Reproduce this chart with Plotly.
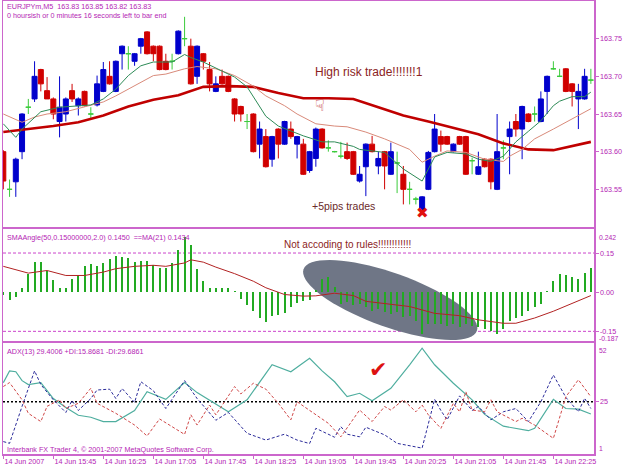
import math
import plotly.graph_objects as go

# ---------------- data ----------------
bar_index = list(range(95))

open_ = [163.600,163.550,163.560,163.600,163.659,163.670,163.709,163.681,163.670,163.640,
         163.650,163.681,163.661,163.680,163.650,163.662,163.680,163.700,163.680,163.730,
         163.730,163.720,163.740,163.759,163.740,163.740,163.720,163.720,163.730,163.750,
         163.740,163.700,163.730,163.709,163.680,163.700,163.700,163.670,163.660,163.640,
         163.650,163.610,163.620,163.590,163.630,163.610,163.630,163.610,163.610,163.575,
         163.591,163.630,163.605,163.600,163.594,163.600,163.600,163.561,163.580,163.610,
         163.581,163.600,163.570,163.585,163.570,163.550,163.537,163.523,163.550,163.600,
         163.620,163.620,163.600,163.620,163.620,163.588,163.570,163.590,163.590,163.550,
         163.605,163.620,163.640,163.630,163.650,163.650,163.640,163.680,163.710,163.700,
         163.710,163.690,163.670,163.670,163.695]
close = [163.561,163.550,163.590,163.650,163.659,163.700,163.690,163.670,163.650,163.659,
         163.670,163.670,163.670,163.661,163.650,163.690,163.709,163.690,163.720,163.740,
         163.730,163.730,163.750,163.730,163.730,163.709,163.709,163.720,163.760,163.750,
         163.690,163.740,163.720,163.690,163.690,163.690,163.680,163.650,163.650,163.640,
         163.600,163.630,163.580,163.620,163.610,163.640,163.620,163.620,163.570,163.600,
         163.630,163.605,163.605,163.600,163.594,163.591,163.570,163.570,163.610,163.600,
         163.591,163.581,163.600,163.585,163.550,163.550,163.537,163.540,163.599,163.630,
         163.610,163.610,163.610,163.610,163.570,163.588,163.580,163.580,163.560,163.600,
         163.605,163.630,163.630,163.660,163.640,163.650,163.670,163.700,163.710,163.700,
         163.680,163.680,163.680,163.700,163.695]
high = [163.602,163.563,163.592,163.651,163.670,163.720,163.710,163.699,163.672,163.700,
        163.672,163.690,163.672,163.681,163.659,163.701,163.719,163.720,163.721,163.741,
        163.740,163.731,163.751,163.760,163.741,163.741,163.730,163.730,163.761,163.779,
        163.750,163.741,163.731,163.719,163.700,163.709,163.701,163.671,163.661,163.650,
        163.651,163.640,163.630,163.621,163.631,163.641,163.640,163.621,163.617,163.601,
        163.632,163.631,163.615,163.601,163.613,163.612,163.601,163.581,163.611,163.621,
        163.600,163.601,163.612,163.600,163.581,163.560,163.540,163.541,163.601,163.650,
        163.628,163.621,163.611,163.621,163.621,163.592,163.600,163.591,163.591,163.650,
        163.615,163.640,163.650,163.661,163.651,163.660,163.680,163.701,163.720,163.710,
        163.711,163.691,163.690,163.710,163.710]
low = [163.550,163.540,163.540,163.590,163.650,163.666,163.680,163.670,163.643,163.619,
       163.640,163.666,163.648,163.660,163.642,163.660,163.679,163.689,163.679,163.709,
       163.709,163.714,163.730,163.729,163.720,163.708,163.708,163.709,163.729,163.740,
       163.689,163.690,163.709,163.680,163.679,163.689,163.679,163.640,163.640,163.630,
       163.599,163.591,163.579,163.580,163.591,163.609,163.617,163.591,163.569,163.572,
       163.580,163.604,163.600,163.599,163.591,163.589,163.569,163.559,163.541,163.599,
       163.570,163.550,163.569,163.545,163.530,163.530,163.530,163.522,163.549,163.599,
       163.600,163.609,163.599,163.609,163.569,163.570,163.569,163.579,163.550,163.549,
       163.590,163.570,163.620,163.590,163.639,163.640,163.639,163.650,163.709,163.699,
       163.679,163.660,163.630,163.669,163.690]

ma_slow_x = [0,4,8,12,16,20,24,28,32,36,40,44,48,52,56,60,64,68,72,76,80,84,88,92,94]
ma_slow = [163.626,163.630,163.634,163.639,163.648,163.660,163.669,163.675,163.686,163.687,
           163.686,163.678,163.671,163.671,163.670,163.659,163.648,163.640,163.632,163.623,
           163.611,163.603,163.602,163.609,163.613]
ma_mid_x = [0,2,3,5,7,10,13,16,18,21,24,26,29,31,34,37,40,42,45,47,50,53,55,58,61,65,67,69,71,74,77,80,81,83,85,88,90,94]
ma_mid = [163.650,163.643,163.639,163.646,163.650,163.653,163.659,163.666,163.674,163.687,
          163.701,163.703,163.710,163.713,163.710,163.701,163.687,163.674,163.661,163.650,
          163.637,163.634,163.633,163.626,163.617,163.603,163.586,163.594,163.601,163.599,
          163.590,163.587,163.594,163.603,163.617,163.630,163.639,163.657]
ma_fast_x = [0,2,3,5,6,9,12,14,16,18,20,22,24,27,29,30,32,35,37,39,41,42,44,46,48,51,53,56,57,59,
             61,64,66,67,68,69,71,74,76,78,80,82,84,86,88,89,91,93,94]
ma_fast = [163.637,163.619,163.630,163.646,163.653,163.659,163.661,163.662,163.670,163.683,
           163.701,163.714,163.719,163.719,163.729,163.725,163.719,163.707,163.699,163.686,
           163.661,163.647,163.634,163.627,163.621,163.613,163.613,163.607,163.603,163.601,
           163.599,163.577,163.567,163.561,163.577,163.593,163.599,163.597,163.590,163.587,
           163.594,163.613,163.627,163.641,163.661,163.667,163.673,163.673,163.679]

angle_hist = [-0.012,-0.030,-0.019,0.015,0.070,0.115,0.115,0.083,0.047,0.015,
              0.015,0.051,0.064,0.099,0.109,0.099,0.112,0.128,0.138,0.135,
              0.131,0.115,0.118,0.118,0.106,0.092,0.092,0.112,0.160,0.212,
              0.179,0.087,0.041,0.015,0.015,0.015,0.015,0.003,-0.026,-0.051,
              -0.073,-0.100,-0.113,-0.090,-0.087,-0.081,-0.055,-0.042,-0.034,-0.030,
              0.010,0.051,0.058,0.019,-0.045,-0.038,-0.051,-0.045,-0.058,-0.071,
              -0.064,-0.077,-0.083,-0.077,-0.094,-0.090,-0.109,-0.160,-0.122,-0.122,
              -0.122,-0.128,-0.122,-0.135,-0.122,-0.128,-0.135,-0.141,-0.150,-0.160,
              -0.141,-0.112,-0.099,-0.090,-0.071,-0.055,-0.045,0.003,0.042,0.068,
              0.064,0.060,0.051,0.073,0.092]
angle_ma_x = [0,4,7,10,13,16,18,21,24,26,29,30,32,34,37,40,42,45,48,50,53,56,58,62,65,69,73,76,80,82,85,88,91,94]
angle_ma = [0.099,0.073,0.083,0.064,0.064,0.077,0.090,0.099,0.103,0.099,
            0.112,0.124,0.115,0.096,0.071,0.042,0.017,-0.009,-0.015,-0.014,
            -0.004,-0.013,-0.035,-0.045,-0.055,-0.081,-0.090,-0.106,-0.119,-0.119,
            -0.099,-0.073,-0.042,-0.013]

adx_x = [0,1,2,3,4,6,8,10,12,14,16,18,21,23,26,29,31,36,39,43,46,49,51,53,55,57,59,62,65,67,69,72,75,77,80,84,85,88,90,92,94]
adx = [33.8,39.2,38.8,34.7,32.9,33.8,26.5,22.4,18.8,17.9,15.9,15.9,21.0,29.6,26.1,33.8,29.2,20.4,25.9,42.0,
       38.8,45.0,39.2,34.2,27.4,28.9,25.5,31.2,42.0,49.6,42.0,33.5,25.9,19.2,13.8,11.7,12.8,26.1,21.9,21.6,19.4]
pdi_x = [0,1,3,5,6,8,10,11,12,14,15,17,18,19,21,22,24,26,29,31,34,36,39,42,45,47,49,50,53,54,
         55,57,58,61,63,67,69,70,71,73,75,76,78,80,82,84,86,88,90,92,93,94]
pdi = [6.7,5.9,22.9,39.2,32.9,25.9,20.1,25.6,21.0,26.5,30.4,30.8,26.5,31.1,24.7,34.2,30.1,21.9,34.7,26.5,
       16.5,20.1,10.5,7.4,10.1,7.4,5.8,12.8,8.7,13.6,10.1,8.9,13.3,9.8,5.9,3.7,26.1,21.0,16.7,27.7,
       21.0,22.8,16.7,20.4,21.9,15.9,25.0,37.3,27.0,20.4,26.6,21.9]
mdi_x = [0,1,3,4,6,7,9,10,12,14,15,18,21,23,25,27,29,30,31,33,34,37,38,40,42,44,46,47,49,52,
         54,57,59,61,62,64,66,67,68,70,72,73,74,75,77,78,79,82,83,85,88,90,92,94]
mdi = [32.0,33.8,25.9,19.7,15.9,22.9,25.9,21.9,24.3,31.2,24.3,19.7,14.3,9.3,17.1,13.6,10.0,19.0,14.3,23.5,
       19.0,32.0,28.6,33.5,30.8,24.3,16.7,25.0,21.0,15.1,8.9,21.2,15.9,22.8,21.2,25.9,20.4,23.5,19.0,12.8,
       24.3,20.4,29.6,21.2,20.4,25.9,20.4,15.9,17.4,14.3,8.2,27.3,35.1,27.3]

time_tick_bars = [0, 8, 16, 24, 32, 40, 48, 56, 64, 72, 80, 88]
time_tick_labels = ["14 Jun 2007", "14 Jun 15:45", "14 Jun 16:25", "14 Jun 17:05", "14 Jun 17:45",
                    "14 Jun 18:25", "14 Jun 19:05", "14 Jun 19:45", "14 Jun 20:25", "14 Jun 21:05",
                    "14 Jun 21:45", "14 Jun 22:25"]
price_ticks = [163.55, 163.60, 163.65, 163.70, 163.75]
angle_ticks = [-0.15, 0.0, 0.15]
adx_level = 25

# ---------------- styling / layout ----------------
W, H = 625, 469
ML, MR, MT, MB = 3, 31, 1, 15
PW, PH = W - ML - MR, H - MT - MB
FONT = "Liberation Sans, Arial, sans-serif"
MAG = "#B424B4"
BORDER = "#CC66CC"
XR = [-0.05, 94.5]
px_per_bar = PW / (XR[1] - XR[0])

def ypaper(ypx):
    return (MT + PH - ypx) / PH

def xpaper(xpx):
    return (xpx - ML) / PW

dom1 = [ypaper(227), 1.0]
dom2 = [ypaper(341), ypaper(229)]
dom3 = [0.0, ypaper(343)]
yr1 = [163.50, 163.80]
yr2 = [-0.187, 0.242]
yr3 = [1, 52]

fig = go.Figure()

groups = {"bull": [], "bear": [], "doji": []}
for i in bar_index:
    if close[i] > open_[i]:
        groups["bull"].append(i)
    elif close[i] < open_[i]:
        groups["bear"].append(i)
    else:
        groups["doji"].append(i)
colors = {"bull": "#0000CC", "bear": "#D00000", "doji": "#3CCB3C"}
for k, idx in groups.items():
    c = colors[k]
    fig.add_trace(go.Candlestick(
        x=[bar_index[i] for i in idx], open=[open_[i] for i in idx], high=[high[i] for i in idx],
        low=[low[i] for i in idx], close=[close[i] for i in idx],
        increasing=dict(line=dict(color=c, width=1), fillcolor=c),
        decreasing=dict(line=dict(color=c, width=1), fillcolor=c),
        whiskerwidth=0, hoverinfo="skip", showlegend=False, xaxis="x", yaxis="y"))

fig.add_trace(go.Scatter(x=ma_slow_x, y=ma_slow, mode="lines", line=dict(color="#C00000", width=2.6),
                         xaxis="x", yaxis="y", hoverinfo="skip", showlegend=False))
fig.add_trace(go.Scatter(x=ma_mid_x, y=ma_mid, mode="lines", line=dict(color="#D98A7A", width=1),
                         xaxis="x", yaxis="y", hoverinfo="skip", showlegend=False))
fig.add_trace(go.Scatter(x=ma_fast_x, y=ma_fast, mode="lines", line=dict(color="#2E8B57", width=1),
                         xaxis="x", yaxis="y", hoverinfo="skip", showlegend=False))

fig.add_trace(go.Bar(x=bar_index, y=angle_hist, width=0.34, marker=dict(color="#22AA22", line=dict(width=0)),
                     xaxis="x2", yaxis="y2", hoverinfo="skip", showlegend=False))
fig.add_trace(go.Scatter(x=angle_ma_x, y=angle_ma, mode="lines", line=dict(color="#B22222", width=1),
                         xaxis="x2", yaxis="y2", hoverinfo="skip", showlegend=False))

fig.add_trace(go.Scatter(x=adx_x, y=adx, mode="lines", line=dict(color="#4FAE9F", width=1.2),
                         xaxis="x3", yaxis="y3", hoverinfo="skip", showlegend=False))
fig.add_trace(go.Scatter(x=pdi_x, y=pdi, mode="lines", line=dict(color="#2B2B9A", width=1, dash="3px,2px"),
                         xaxis="x3", yaxis="y3", hoverinfo="skip", showlegend=False))
fig.add_trace(go.Scatter(x=mdi_x, y=mdi, mode="lines", line=dict(color="#D04848", width=1, dash="3px,2px"),
                         xaxis="x3", yaxis="y3", hoverinfo="skip", showlegend=False))

shapes = []
for lv in (0.15, -0.15):
    shapes.append(dict(type="line", xref="x2 domain", yref="y2", x0=0, x1=1, y0=lv, y1=lv,
                       line=dict(color="#CC44CC", width=1, dash="3px,2px"), layer="below"))
shapes.append(dict(type="line", xref="x3 domain", yref="y3", x0=0, x1=1, y0=adx_level, y1=adx_level,
                   line=dict(color="#000000", width=1.6, dash="2px,2px"), layer="below"))

# ellipse drawing (rotated) in the angle panel
ell_cx, ell_cy = 61.9, -0.030
ell_a, ell_b, ell_theta = 92.0, 27.0, math.radians(19.6)
px_per_val = (dom2[1] - dom2[0]) * PH / (yr2[1] - yr2[0])
pts = []
for k in range(73):
    t = 2 * math.pi * k / 72
    dx = ell_a * math.cos(t) * math.cos(ell_theta) - ell_b * math.sin(t) * math.sin(ell_theta)
    dy = ell_a * math.cos(t) * math.sin(ell_theta) + ell_b * math.sin(t) * math.cos(ell_theta)
    pts.append((ell_cx + dx / px_per_bar, ell_cy - dy / px_per_val))
path = "M " + " L ".join(f"{x:.4f},{y:.5f}" for x, y in pts) + " Z"
shapes.append(dict(type="path", path=path, xref="x2", yref="y2", fillcolor="#6F7686",
                   line=dict(width=0), layer="below"))

ann = []
def txt(text, x, y, size=7.2, color=MAG, xanchor="left", yanchor="middle"):
    ann.append(dict(text=text, x=x, y=y, xref="paper", yref="paper", showarrow=False,
                    font=dict(family=FONT, size=size, color=color), xanchor=xanchor, yanchor=yanchor))

txt("EURJPYm,M5\u00a0\u00a0163.83 163.85 163.82 163.83", xpaper(5), ypaper(7))
txt("0 hoursish or 0 minutes 16 seconds left to bar end", xpaper(5), ypaper(16))
txt("SMAAngle(50,0.15000000,2.0) 0.1450\u00a0\u00a0==MA(21) 0.1434", xpaper(5), ypaper(237.5))
txt("ADX(13) 29.4006 +DI:15.8681 -DI:29.6861", xpaper(5), ypaper(351.5))
txt("Interbank FX Trader 4, \u00a9 2001-2007 MetaQuotes Software Corp.", xpaper(5), ypaper(449))

for val, yref, anchor, shift in ((0.242, "y2", "top", -3), (-0.187, "y2", "bottom", -3),
                                 (52, "y3", "top", -2), (1, "y3", "bottom", 0)):
    ann.append(dict(text=("%g" % val) if yref == "y3" else ("%.3f" % val), x=1, y=val, xref="paper", yref=yref,
                    showarrow=False, xanchor="left", yanchor=anchor, xshift=3, yshift=shift,
                    font=dict(family=FONT, size=6.8, color=MAG)))

ann.append(dict(text="High risk trade!!!!!!!1", x=49.6, y=163.7053, xref="x", yref="y", showarrow=False,
                xanchor="left", yanchor="middle", font=dict(family=FONT, size=12, color="#8B2323")))
ann.append(dict(text="+5pips trades", x=49.0, y=163.5277, xref="x", yref="y", showarrow=False,
                xanchor="left", yanchor="middle", font=dict(family=FONT, size=10.5, color="#6B2A2A")))
ann.append(dict(text="Not accoding to rules!!!!!!!!!!!!", x=44.6, y=0.181, xref="x2", yref="y2",
                showarrow=False, xanchor="left", yanchor="middle",
                font=dict(family=FONT, size=10, color="#8B2323")))
ann.append(dict(text="\u2716", x=67, y=163.518, xref="x", yref="y", showarrow=False,
                font=dict(family="DejaVu Sans", size=15, color="#E01010")))
ann.append(dict(text="\u261F", x=50.7, y=163.6607, xref="x", yref="y", showarrow=False,
                font=dict(family="DejaVu Sans", size=16, color="#B81C1C")))
ann.append(dict(text="\u2714", x=60, y=40, xref="x3", yref="y3", showarrow=False,
                font=dict(family="DejaVu Sans", size=22, color="#DD1111")))

axis_common = dict(range=XR, showgrid=False, zeroline=False, showline=True, mirror=True,
                   linecolor=BORDER, linewidth=1.5, fixedrange=True, automargin=False)
yaxis_common = dict(showgrid=False, zeroline=False, showline=True, mirror=True, linecolor=BORDER,
                    linewidth=1.5, side="right", ticks="outside", ticklen=3, tickcolor=BORDER,
                    tickfont=dict(family=FONT, size=7.2, color=MAG), fixedrange=True, automargin=False)

fig.update_layout(
    width=W, height=H, margin=dict(l=ML, r=MR, t=MT, b=MB, autoexpand=False),
    paper_bgcolor="white", plot_bgcolor="white", showlegend=False, hovermode=False,
    boxgap=0.2, boxgroupgap=0.0, bargap=0,
    xaxis=dict(**axis_common, domain=[0, 1], anchor="y", showticklabels=False, ticks="",
               rangeslider=dict(visible=False)),
    xaxis2=dict(**axis_common, domain=[0, 1], anchor="y2", showticklabels=False, ticks="",
                matches="x"),
    xaxis3=dict(**axis_common, domain=[0, 1], anchor="y3", tickmode="array", tickvals=time_tick_bars,
                ticktext=time_tick_labels, ticks="outside", ticklen=3, tickcolor=BORDER,
                ticklabelposition="outside right", tickangle=0,
                tickfont=dict(family=FONT, size=7.2, color=MAG), matches="x"),
    yaxis=dict(**yaxis_common, domain=dom1, range=yr1, anchor="x", tickmode="array",
               tickvals=price_ticks, ticktext=["%.2f" % v for v in price_ticks]),
    yaxis2=dict(**yaxis_common, domain=dom2, range=yr2, anchor="x2", tickmode="array",
                tickvals=angle_ticks, ticktext=["%.2f" % v for v in angle_ticks]),
    yaxis3=dict(**yaxis_common, domain=dom3, range=yr3, anchor="x3", tickmode="array",
                tickvals=[adx_level], ticktext=[str(adx_level)]),
    shapes=shapes, annotations=ann,
)

fig.write_html("out.html", config={"displayModeBar": False, "staticPlot": True})
